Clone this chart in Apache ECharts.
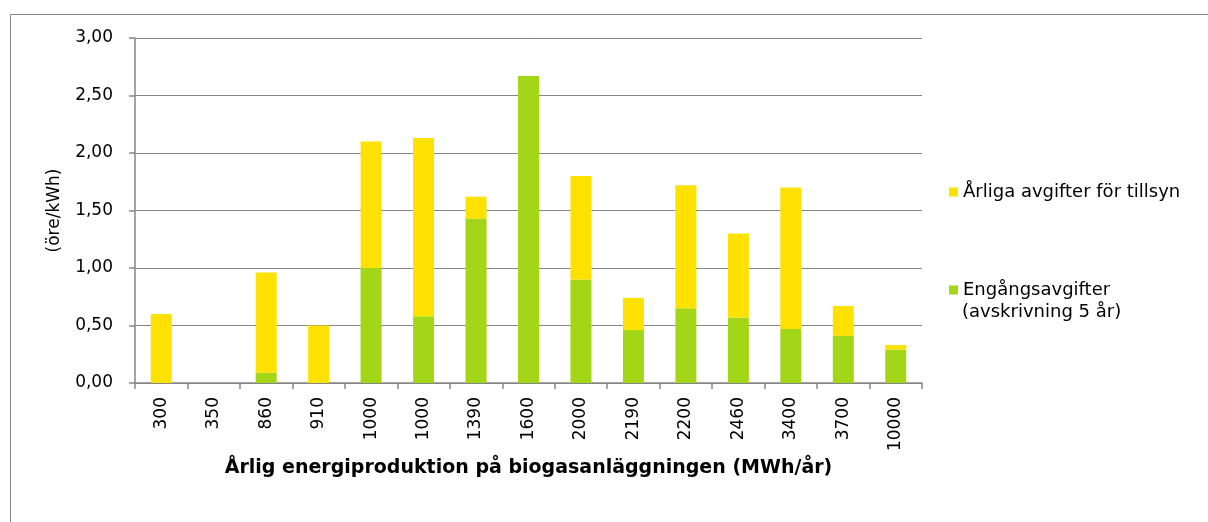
<!DOCTYPE html>
<html>
<head>
<meta charset="utf-8">
<script src="https://cdn.jsdelivr.net/npm/echarts@6/dist/echarts.min.js"></script>
<style>
html,body{margin:0;padding:0;background:#fff;}
#chart{width:1208px;height:522px;}
</style>
</head>
<body>
<div id="chart"></div>
<script>
// data
var categories = ['300','350','860','910','1000','1000','1390','1600','2000','2190','2200','2460','3400','3700','10000'];
var engangs = [0, 0, 0.09, 0, 1.00, 0.58, 1.43, 2.67, 0.90, 0.46, 0.65, 0.57, 0.47, 0.41, 0.29];
var arliga = [0.60, 0, 0.87, 0.50, 1.10, 1.55, 0.19, 0, 0.90, 0.28, 1.07, 0.73, 1.23, 0.26, 0.04];
var yTicks = [0, 0.5, 1, 1.5, 2, 2.5, 3];

var nameArliga = 'Årliga avgifter för tillsyn';
var nameEngangs = 'Engångsavgifter';
var nameEngangs2 = '(avskrivning 5 år)';

var font = 'DejaVu Sans';
var chart = echarts.init(document.getElementById('chart'));
option = {
    animation: false,
    textStyle: {fontFamily: font},
    graphic: [{
        type: 'rect',
        shape: {x: 10.5, y: 14.5, width: 1400, height: 700},
        style: {fill: 'none', stroke: '#888', lineWidth: 1}
    }, {
        // second line of the green legend entry
        type: 'text',
        left: 962,
        top: 303,
        style: {text: nameEngangs2, fill: '#000', font: '18px "DejaVu Sans"'}
    }],
    legend: [{
        orient: 'vertical',
        left: 944,
        top: 178,
        itemWidth: 9,
        itemHeight: 9,
        itemGap: 6,
        icon: 'rect',
        data: [nameArliga],
        textStyle: {color: '#000', fontSize: 18, fontFamily: font}
    }, {
        orient: 'vertical',
        left: 944,
        top: 276,
        itemWidth: 9,
        itemHeight: 9,
        itemGap: 6,
        icon: 'rect',
        data: [nameEngangs],
        textStyle: {color: '#000', fontSize: 18, fontFamily: font}
    }],
    grid: {
        left: 135,
        right: 286,
        top: 38,
        bottom: 139
    },
    xAxis: {
        type: 'category',
        data: categories,
        name: 'Årlig energiproduktion på biogasanläggningen (MWh/år)',
        nameLocation: 'middle',
        nameGap: 73,
        nameTextStyle: {color: '#000', fontSize: 19, fontWeight: 'bold', fontFamily: font},
        axisLine: {lineStyle: {color: '#868686', width: 1.5}},
        axisTick: {show: true, interval: 0, length: 6, lineStyle: {color: '#868686', width: 1.5}},
        axisLabel: {
            interval: 0,
            rotate: 90,
            margin: 14,
            color: '#000',
            fontSize: 17,
            fontFamily: font
        }
    },
    yAxis: {
        type: 'value',
        min: yTicks[0],
        max: yTicks[yTicks.length - 1],
        interval: 0.5,
        name: '(öre/kWh)',
        nameLocation: 'middle',
        nameGap: 72,
        nameTextStyle: {color: '#000', fontSize: 17, fontFamily: font},
        axisLine: {show: true, lineStyle: {color: '#868686', width: 1.5}},
        axisTick: {show: true, length: 6, lineStyle: {color: '#868686', width: 1.5}},
        splitLine: {show: true, lineStyle: {color: '#868686', width: 1}},
        axisLabel: {
            margin: 22,
            color: '#000',
            fontSize: 17,
            fontFamily: font,
            formatter: function(v){
                return v.toFixed(2).replace('.', ',');
            }
        }
    },
    series: [{
        name: nameEngangs,
        type: 'bar',
        stack: 'total',
        barWidth: 21,
        data: engangs,
        itemStyle: {color: '#A3D616'}
    }, {
        name: nameArliga,
        type: 'bar',
        stack: 'total',
        barWidth: 21,
        data: arliga,
        itemStyle: {color: '#FFE100'}
    }]
};
chart.setOption(option);
</script>
</body>
</html>
